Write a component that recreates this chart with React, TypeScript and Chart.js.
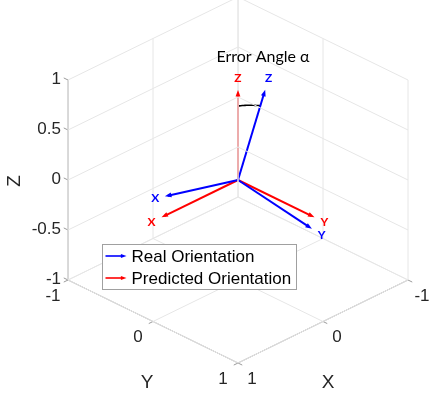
import React, { useEffect, useRef } from "react";
import { Chart, registerables } from "chart.js";
Chart.register(...registerables);

// ---- data ----
const zTicks = [-1, -0.5, 0, 0.5, 1];
const zTickLabels = ["-1", "-0.5", "0", "0.5", "1"];
const xTicks = [-1, 0, 1];
const xTickLabels = ["-1", "0", "1"];
const yTicks = [-1, 0, 1];
const yTickLabels = ["-1", "0", "1"];
const axisNames = ["X", "Y", "Z"];
const realX = [0.88, 0.02, 0.21];
const realY = [0.02, 0.89, -0.11];
const realZ = [-0.2, 0.12, 0.87];
const predX = [0.9, 0, 0];
const predY = [0, 0.9, 0];
const predZ = [0, 0, 0.9];
const vectorLabels = ["X", "Y", "Z"];
const seriesNames = ["Real Orientation", "Predicted Orientation"];
const annotationText = "Error Angle α";
const arcRadius = 0.74;

const BLUE = "#0000ff";
const RED = "#ff0000";
const GRID = "#e6e6e6";
const AXIS = "#9a9a9a";
const TEXT = "#262626";

type V3 = number[];
const proj = (p: V3) => ({ x: 0.85 * (p[1] - p[0]), y: p[2] - 0.415 * (p[0] + p[1]) });
const NaNPt = { x: NaN, y: NaN };

function segs(list: [V3, V3][]) {
  const out: any[] = [];
  list.forEach(([a, b]) => {
    out.push(proj(a), proj(b), NaNPt);
  });
  return out;
}

function buildGrid() {
  const s: [V3, V3][] = [];
  zTicks.forEach((z) => {
    s.push([[1, -1, z], [-1, -1, z]]);
    s.push([[-1, -1, z], [-1, 1, z]]);
  });
  xTicks.forEach((x) => {
    s.push([[x, -1, -1], [x, -1, 1]]);
    s.push([[x, -1, -1], [x, 1, -1]]);
  });
  yTicks.forEach((y) => {
    s.push([[-1, y, -1], [-1, y, 1]]);
    s.push([[-1, y, -1], [1, y, -1]]);
  });
  return segs(s);
}

function buildAxes() {
  const s: [V3, V3][] = [
    [[1, -1, -1], [1, -1, 1]],
    [[1, -1, -1], [1, 1, -1]],
    [[1, 1, -1], [-1, 1, -1]],
  ];
  const t = 0.05;
  zTicks.forEach((z) => s.push([[1, -1, z], [1, -1 - t, z]]));
  yTicks.forEach((y) => s.push([[1, y, -1], [1 + t, y, -1]]));
  xTicks.forEach((x) => s.push([[x, 1, -1], [x, 1 + t, -1]]));
  return segs(s);
}

function norm(v: V3) {
  const l = Math.hypot(v[0], v[1], v[2]);
  return v.map((c) => c / l);
}

function buildArc() {
  const a = norm(predZ);
  const b = norm(realZ);
  const pts: any[] = [];
  const n = 16;
  for (let i = 0; i <= n; i++) {
    const t = i / n;
    const m = norm([a[0] * (1 - t) + b[0] * t, a[1] * (1 - t) + b[1] * t, a[2] * (1 - t) + b[2] * t]);
    pts.push(proj(m.map((c) => c * arcRadius)));
  }
  return pts;
}

const vecDs = (v: V3, color: string) => ({
  data: [proj([0, 0, 0]), proj(v.map((c) => c * 0.96))],
  borderColor: color,
  borderWidth: 2,
  pointRadius: 0,
  showLine: true,
  fill: false,
});

export default function App() {
  const ref = useRef<HTMLCanvasElement | null>(null);
  useEffect(() => {
    if (!ref.current) return;
    const realVecs = [realX, realY, realZ];
    const predVecs = [predX, predY, predZ];

    const plugin = {
      id: "decor",
      afterDatasetsDraw(chart: any) {
        const ctx = chart.ctx as CanvasRenderingContext2D;
        const xs = chart.scales.x;
        const ys = chart.scales.y;
        const px = (p: V3) => {
          const q = proj(p);
          return { x: xs.getPixelForValue(q.x), y: ys.getPixelForValue(q.y) };
        };
        const head = (tip: { x: number; y: number }, ang: number, color: string, len = 7) => {
          ctx.save();
          ctx.fillStyle = color;
          ctx.beginPath();
          ctx.moveTo(tip.x, tip.y);
          ctx.lineTo(tip.x - len * Math.cos(ang - 0.35), tip.y - len * Math.sin(ang - 0.35));
          ctx.lineTo(tip.x - len * Math.cos(ang + 0.35), tip.y - len * Math.sin(ang + 0.35));
          ctx.closePath();
          ctx.fill();
          ctx.restore();
        };
        // arrowheads
        const drawHeads = (vecs: V3[], color: string) => {
          vecs.forEach((v) => {
            const tip = px(v);
            const back = px(v.map((c) => c * 0.8));
            head(tip, Math.atan2(tip.y - back.y, tip.x - back.x), color);
          });
        };
        drawHeads(realVecs, BLUE);
        drawHeads(predVecs, RED);

        ctx.save();
        ctx.textAlign = "center";
        ctx.textBaseline = "middle";
        // vector labels
        ctx.font = "bold 12px Lato, 'Liberation Sans', Arial, sans-serif";
        const lab = (vecs: V3[], color: string) => {
          vecs.forEach((v, i) => {
            const p = px(v.map((c) => c * 1.13));
            ctx.fillStyle = color;
            ctx.fillText(vectorLabels[i], p.x, p.y);
          });
        };
        lab(realVecs, BLUE);
        lab(predVecs, RED);

        // tick labels
        ctx.fillStyle = TEXT;
        ctx.font = "17px 'Liberation Sans', Arial, sans-serif";
        ctx.textAlign = "right";
        zTicks.forEach((z, i) => {
          const p = px([1, -1, z]);
          ctx.fillText(zTickLabels[i], p.x - 7, p.y - 1);
        });
        ctx.textAlign = "center";
        yTicks.forEach((y, i) => {
          const p = px([1, y, -1]);
          ctx.fillText(yTickLabels[i], p.x - 15, p.y + 16);
        });
        xTicks.forEach((x, i) => {
          const p = px([x, 1, -1]);
          ctx.fillText(xTickLabels[i], p.x + 14, p.y + 16);
        });
        // axis labels
        ctx.font = "19px 'Liberation Sans', Arial, sans-serif";
        const py = px([1, 0, -1]);
        ctx.fillText(axisNames[1], py.x - 6, py.y + 61);
        const pxl = px([0, 1, -1]);
        ctx.fillText(axisNames[0], pxl.x + 5, pxl.y + 61);
        const pz = px([1, -1, 0]);
        ctx.save();
        ctx.translate(pz.x - 53, pz.y + 1);
        ctx.rotate(-Math.PI / 2);
        ctx.fillText(axisNames[2], 0, 0);
        ctx.restore();

        // annotation
        ctx.fillStyle = "#000";
        ctx.font = "16px Lato, 'Open Sans', sans-serif";
        const pa = px(predZ.map((c) => c * 1.37));
        ctx.fillText(annotationText, pa.x + 25, pa.y);

        // legend
        const lx = 102.5, ly = 244.5, lw = 194, lh = 45;
        ctx.fillStyle = "#fff";
        ctx.fillRect(lx, ly, lw, lh);
        ctx.strokeStyle = "#a0a0a0";
        ctx.lineWidth = 1;
        ctx.strokeRect(lx, ly, lw, lh);
        ctx.textAlign = "left";
        ctx.font = "17px 'Liberation Sans', Arial, sans-serif";
        [BLUE, RED].forEach((c, i) => {
          const yy = ly + 11.5 + i * 22;
          ctx.strokeStyle = c;
          ctx.lineWidth = 1.6;
          ctx.beginPath();
          ctx.moveTo(lx + 3, yy);
          ctx.lineTo(lx + 20, yy);
          ctx.stroke();
          head({ x: lx + 24, y: yy }, 0, c, 6);
          ctx.fillStyle = "#000";
          ctx.fillText(seriesNames[i], lx + 29, yy + 1);
        });
        ctx.restore();
      },
    };

    const chart = new Chart(ref.current, {
      type: "scatter",
      data: {
        datasets: [
          { data: buildGrid(), borderColor: GRID, borderWidth: 1, pointRadius: 0, showLine: true, spanGaps: false } as any,
          { data: buildAxes(), borderColor: AXIS, borderWidth: 1, pointRadius: 0, showLine: true, spanGaps: false } as any,
          ...realVecs.map((v) => vecDs(v, BLUE)),
          ...predVecs.map((v) => vecDs(v, RED)),
          { data: buildArc(), borderColor: "#000", borderWidth: 1.6, pointRadius: 0, showLine: true } as any,
        ],
      },
      options: {
        animation: false,
        responsive: false,
        layout: { padding: 0 },
        plugins: { legend: { display: false }, tooltip: { enabled: false } },
        scales: {
          x: { type: "linear", display: false, min: -2.38, max: 1.91 },
          y: { type: "linear", display: false, min: -2.15, max: 1.8 },
        },
      },
      plugins: [plugin],
    });
    return () => chart.destroy();
  }, []);
  return (
    <div style={{ position: "fixed", left: 0, top: 0, width: 429, height: 395, background: "#fff" }}>
      <canvas ref={ref} width={429} height={395} style={{ display: "block" }} />
    </div>
  );
}
